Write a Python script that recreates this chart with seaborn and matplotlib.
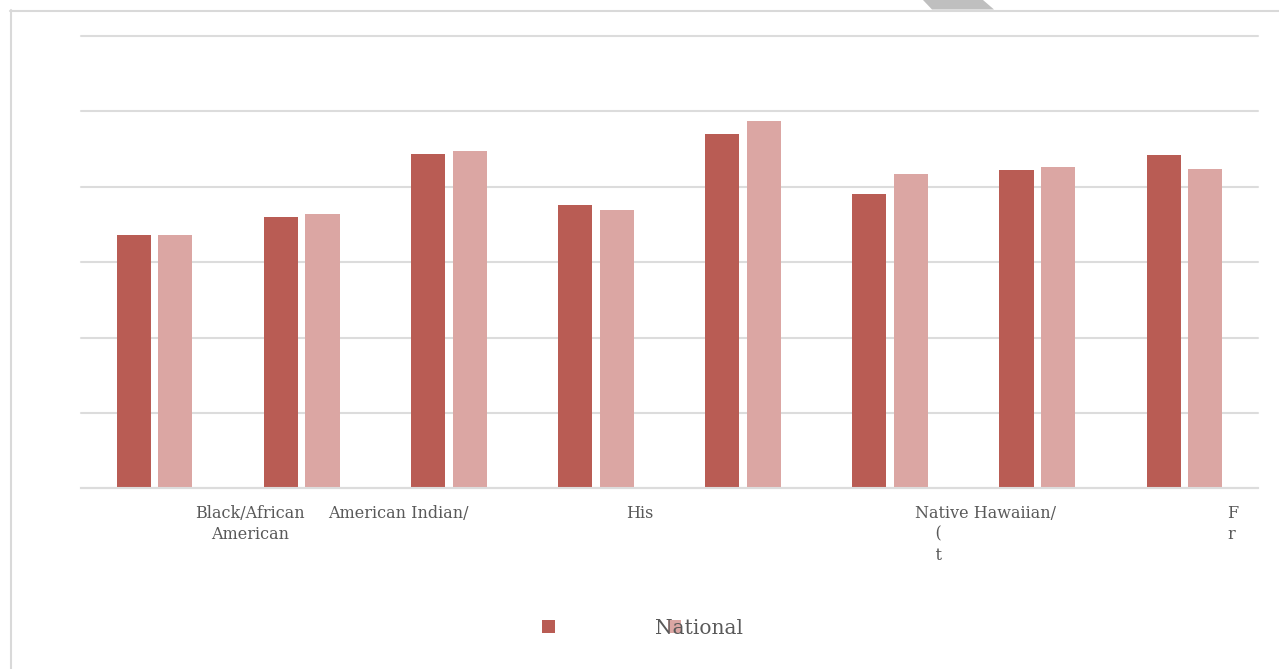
import matplotlib
matplotlib.use("Agg")
import matplotlib.pyplot as plt
from matplotlib.patches import Patch, Polygon
from matplotlib.lines import Line2D
import seaborn as sns
import pandas as pd

# ---- data ----
categories = ["G1", "G2", "G3", "G4", "G5", "G6", "G7", "G8"]
series_names = ["State", "National"]
state_values = [33.6, 36.0, 44.4, 37.6, 47.0, 39.0, 42.2, 44.2]
national_values = [33.6, 36.4, 44.7, 36.9, 48.7, 41.7, 42.6, 42.3]
legend_labels = ["", "National"]
tick_labels = ["Black/African\nAmerican", "American Indian/", "His",
               "Native Hawaiian/\n    (\n    t", "F\nr"]
tick_positions = [0.65, 1.655, 3.30, 5.65, 7.33]
colors = ["#B95C54", "#DBA6A3"]

df = pd.DataFrame({
    "category": categories * 2,
    "series": [series_names[0]] * len(categories) + [series_names[1]] * len(categories),
    "value": state_values + national_values,
})

sns.set_theme(style="white")
plt.rcParams["font.family"] = ["DejaVu Serif", "DejaVu Sans"]

W, H = 1279, 669
fig = plt.figure(figsize=(W / 100, H / 100), dpi=100)
ax = fig.add_axes([81 / W, (H - 488.3) / H, (1258 - 81) / W, (488.3 - 36) / H])

sns.barplot(data=df, x="category", y="value", hue="series", order=categories,
            hue_order=series_names, palette=colors, saturation=1, width=0.565,
            gap=0.18, linewidth=0, legend=False, ax=ax)

ax.set_ylim(0, 60)
ax.set_xlim(-0.5, len(categories) - 0.5)
ax.set_yticks(range(0, 61, 10))
ax.yaxis.grid(True, color="#DCDCDC", linewidth=1.5)
for gl in ax.get_ygridlines():
    gl.set_clip_on(False)
ax.set_axisbelow(True)
ax.tick_params(axis="y", left=False, labelleft=False)
for s in ["left", "right", "top"]:
    ax.spines[s].set_visible(False)
ax.spines["bottom"].set_color("#DCDCDC")
ax.spines["bottom"].set_linewidth(1.5)
ax.set_xlabel("")
ax.set_ylabel("")
ax.set_xticks(tick_positions)
ax.set_xticklabels(tick_labels, fontsize=11.5, color="#595959")
for t in ax.get_xticklabels():
    t.set_multialignment("center" if "Black" in t.get_text() else "left")
    t.set_linespacing(1.3)
ax.tick_params(axis="x", bottom=False, pad=6)

# legend
fs = 14.5
fs_px = fs * 100 / 72
handles = [Patch(facecolor=c, edgecolor="none") for c in colors]
fig.legend(handles, legend_labels, loc="center left",
           bbox_to_anchor=(542 / W, 1 - 628 / H), ncol=2, frameon=False,
           fontsize=fs, labelcolor="#595959",
           handlelength=13 / fs_px, handleheight=13 / fs_px,
           handletextpad=-26 / fs_px, columnspacing=139 / fs_px,
           borderpad=0, borderaxespad=0)

# chart frame and decoration
fig.add_artist(Line2D([10.5 / W, 10.5 / W], [0, 1 - 10 / H], color="#D9D9D9",
                      linewidth=1.5, transform=fig.transFigure))
fig.add_artist(Line2D([10 / W, 1], [1 - 10.5 / H, 1 - 10.5 / H], color="#D9D9D9",
                      linewidth=1.5, transform=fig.transFigure))
fig.add_artist(Polygon([[923 / W, 1], [983 / W, 1], [994 / W, 1 - 9.5 / H],
                        [932 / W, 1 - 9.5 / H]], closed=True, facecolor="#BFBFBF",
                       edgecolor="none", transform=fig.transFigure))

fig.savefig("out.png", dpi=100)
